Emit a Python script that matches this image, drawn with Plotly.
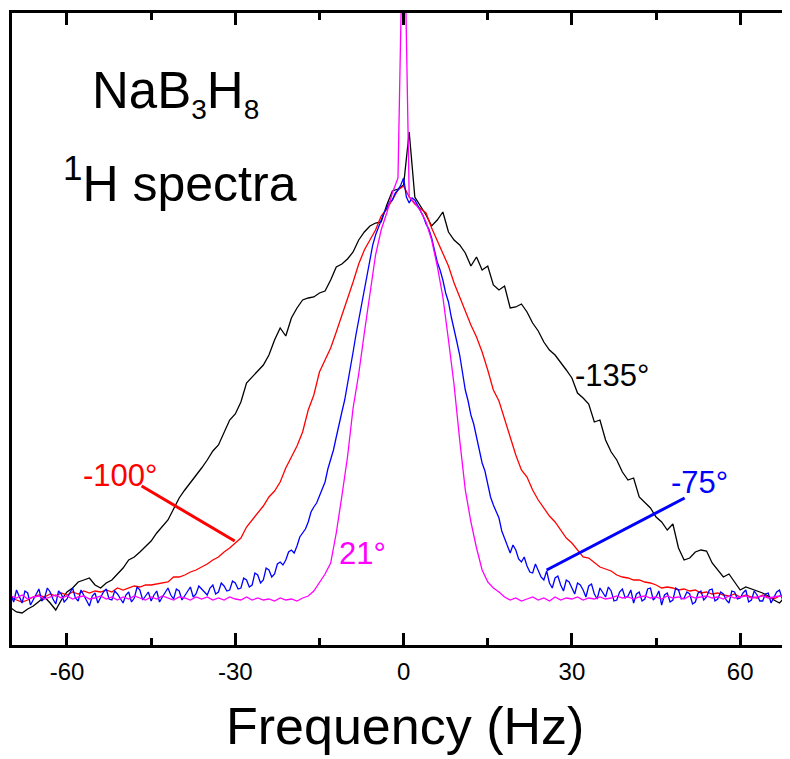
import plotly.graph_objects as go

# Frequency grids (Hz)
freq = list(range(-70, 70))
freq_fine = [-70 + 0.5 * i for i in range(279)]

# Intensities (arbitrary units, baseline = 0)
black_m135 = [-11, -15, -16, -12, -9, -4, 0, -6, -13, -3,
              5, 9, 15, 17, 19, 12, 9, 14, 17, 23,
              29, 37, 40, 45, 50, 56, 64, 71, 77, 88,
              99, 107, 114, 122, 129, 137, 146, 152, 165, 177,
              183, 195, 214, 220, 225, 232, 242, 257, 269, 261,
              279, 289, 297, 299, 300, 304, 306, 317, 330, 333,
              338, 345, 357, 365, 371, 374, 375, 392, 406, 408,
              412, 465, 400, 391, 382, 371, 377, 385, 365, 357,
              352, 344, 331, 340, 327, 331, 312, 307, 311, 289,
              290, 293, 285, 274, 266, 255, 247, 242, 235, 227,
              219, 204, 199, 193, 175, 177, 157, 145, 137, 125,
              117, 119, 100, 95, 89, 80, 75, 67, 73, 49,
              37, 39, 45, 47, 46, 34, 27, 20, 23, 15,
              7, 10, 8, 6, 4, 1, -3, -6, 0, -3]

red_m100 = [0, -3, -5, -3, 0, 2, 0, 3, 1, 4,
            2, 5, 3, 6, 4, 6, 5, 7, 5, 9,
            7, 9, 11, 10, 12, 12, 13, 14, 15, 20,
            20, 22, 25, 27, 30, 33, 37, 40, 45, 49,
            54, 59, 70, 77, 84, 91, 100, 106, 115, 129,
            140, 151, 165, 187, 202, 225, 237, 249, 265, 281,
            297, 315, 333, 347, 357, 367, 381, 388, 397, 407,
            411, 400, 393, 388, 384, 369, 356, 344, 331, 314,
            300, 285, 272, 260, 245, 227, 207, 196, 179, 160,
            142, 127, 120, 107, 97, 89, 81, 75, 67, 59,
            54, 47, 40, 39, 34, 30, 28, 26, 22, 20,
            19, 17, 17, 15, 14, 12, 9, 10, 9, 7,
            8, 6, 7, 4, 5, 3, 4, 2, 1, 3,
            0, 2, 0, -1, 2, 0, -2, 1, -1, 0]

# -75 deg spectrum read at 0.5 Hz steps (noisy)
blue_m75 = [2, -5, 7, 1, -6, 6, 4, -8, -3, 3, 8, -4, -1, 9, 5, -2, -7, 6, 3, -5,
            -2, 4, 9, -1, -4, 7, 2, -3, -9, 1, 4, -6, 0, 5, 8, -2, -3, 6, 3, -1,
            -6, 2, 5, -5, -1, 10, 7, -3, 1, 5, -4, 2, 6, -5, 0, 4, 9, 2, -2, 8,
            6, -3, 1, 5, 10, 0, 3, 11, 8, 4, 2, 9, 12, 3, 5, 14, 11, 6, 7, 16,
            14, 8, 9, 19, 17, 10, 12, 24, 22, 14, 17, 29, 27, 20, 23, 33, 35, 32, 37, 45,
            47, 44, 51, 60, 64, 68, 75, 85, 90, 94, 101, 109, 115, 128, 137, 147, 160, 174, 185, 197,
            212, 230, 245, 262, 277, 290, 305, 324, 339, 352, 362, 370, 377, 384, 389, 395, 397, 404, 407, 412,
            419, 400, 394, 399, 397, 392, 387, 381, 373, 368, 359, 346, 335, 327, 317, 304, 295, 280, 269, 255,
            242, 226, 207, 196, 182, 173, 161, 146, 134, 126, 114, 100, 92, 86, 79, 66, 59, 53, 44, 52,
            47, 38, 35, 40, 31, 25, 24, 33, 27, 20, 17, 26, 14, 9, 19, 21, 12, 6, 17, 15,
            9, 3, 14, 12, 7, 0, 11, 13, 3, -2, 9, 5, 0, 10, 6, -4, -3, 5, 8, -1,
            1, 7, -6, 3, 5, -4, -2, 8, 9, -3, 0, 6, -8, 2, 4, -5, -3, 9, 7, -2,
            -1, 5, 3, -7, -5, 4, 6, -3, 0, 7, 8, -4, -2, 5, 3, -3, -6, 6, 5, -2,
            -1, 4, 7, -5, -3, 6, 2, -4, -4, 3, 4, -6, -1, 5, 7, -2, -6, 4, 1]

magenta_21 = [1, -1, 2, -2, 0, 1, -2, 0, 2, -1,
              1, -2, 0, 1, -2, -1, 1, -2, 0, -3,
              0, -2, 1, -1, -3, 0, -2, 1, -1, -3,
              0, -1, -3, 0, -2, 0, -3, -1, -3, 0,
              -2, -3, 0, -3, -1, -3, -2, -4, -1, -3,
              -2, -4, -1, 1, 6, 14, 23, 34, 64, 101,
              140, 189, 223, 264, 305, 342, 367, 384, 404, 419,
              720, 400, 394, 386, 375, 357, 331, 300, 257, 212,
              157, 107, 75, 49, 27, 15, 9, 5, 0, -3,
              -1, -4, -2, 0, -3, -1, -4, 0, -3, -1,
              -2, 0, -3, -1, -2, 0, -2, -1, 1, -1,
              0, -2, 0, 1, -1, 0, -2, 1, -1, 0,
              -2, 1, -1, 0, 1, -1, 0, -2, 1, -1,
              0, 1, -1, 0, 1, -1, 0, 1, -1, 0]

series_names = ["-135°", "-100°", "-75°", "21°"]
series_colors = ["#000000", "#FF0000", "#0000FF", "#FF00FF"]

tick_vals = [-60, -30, 0, 30, 60]
tick_text = ["-60", "-30", "0", "30", "60"]

# label anchor positions (data units) and pointer lines
label_x = [37.2, -50.6, 52.8, -7.3]
label_y = [222, 122, 115, 44]
red_pointer_x = [-46.7, -30.1]
red_pointer_y = [111, 56]
blue_pointer_x = [25.5, 50.1]
blue_pointer_y = [27, 99]

FONT = "Arial, Liberation Sans, sans-serif"

fig = go.Figure()
traces = [(freq, black_m135), (freq, red_m100), (freq_fine, blue_m75), (freq, magenta_21)]
for (xs, ys), name, col in zip(traces, series_names, series_colors):
    fig.add_trace(go.Scatter(x=xs, y=ys, mode="lines", name=name,
                             line=dict(color=col, width=1.3), showlegend=False))

for (px, py, col) in [(red_pointer_x, red_pointer_y, "#FF0000"), (blue_pointer_x, blue_pointer_y, "#0000FF")]:
    fig.add_shape(type="line", xref="x", yref="y", x0=px[0], y0=py[0], x1=px[1], y1=py[1],
                  line=dict(color=col, width=3))

for name, col, lx, ly in zip(series_names, series_colors, label_x, label_y):
    fig.add_annotation(x=lx, y=ly, xref="x", yref="y", text=name, showarrow=False,
                       font=dict(family=FONT, size=31, color=col))

fig.add_annotation(x=0.101, y=0.873, xref="paper", yref="paper", xanchor="left", yanchor="middle",
                   text="NaB<sub><span style='font-size:28px'>3</span></sub>H<sub><span style='font-size:28px'>8</span></sub>",
                   showarrow=False, font=dict(family=FONT, size=51, color="black"))
fig.add_annotation(x=0.063, y=0.735, xref="paper", yref="paper", xanchor="left", yanchor="middle",
                   text="<sup>1</sup>H spectra", showarrow=False,
                   font=dict(family=FONT, size=50, color="black"))

# x-axis title, centred under 0 Hz as in the original
fig.add_annotation(x=0.3, y=-0.128, xref="x", yref="paper", xanchor="center", yanchor="middle",
                   text="Frequency (Hz)", showarrow=False,
                   font=dict(family=FONT, size=52, color="black"))

fig.update_layout(
    width=774, height=751,
    margin=dict(l=4, r=0, t=5, b=114),
    paper_bgcolor="white", plot_bgcolor="white",
    xaxis=dict(range=[-69.8, 67.45], tickmode="array", tickvals=tick_vals, ticktext=tick_text,
               ticks="inside", ticklen=12, tickwidth=3,
               tickcolor="black", showline=True, linewidth=3, linecolor="black", mirror="ticks",
               showgrid=False, zeroline=False, ticklabelstandoff=3,
               minor=dict(dtick=15, tick0=0, ticks="inside", ticklen=7, tickwidth=3, tickcolor="black"),
               tickfont=dict(family=FONT, size=24, color="black")),
    yaxis=dict(range=[-48, 584], showline=True, linewidth=3, linecolor="black", mirror=False,
               showticklabels=False, ticks="", showgrid=False, zeroline=False),
)

fig.write_html("out.html")
